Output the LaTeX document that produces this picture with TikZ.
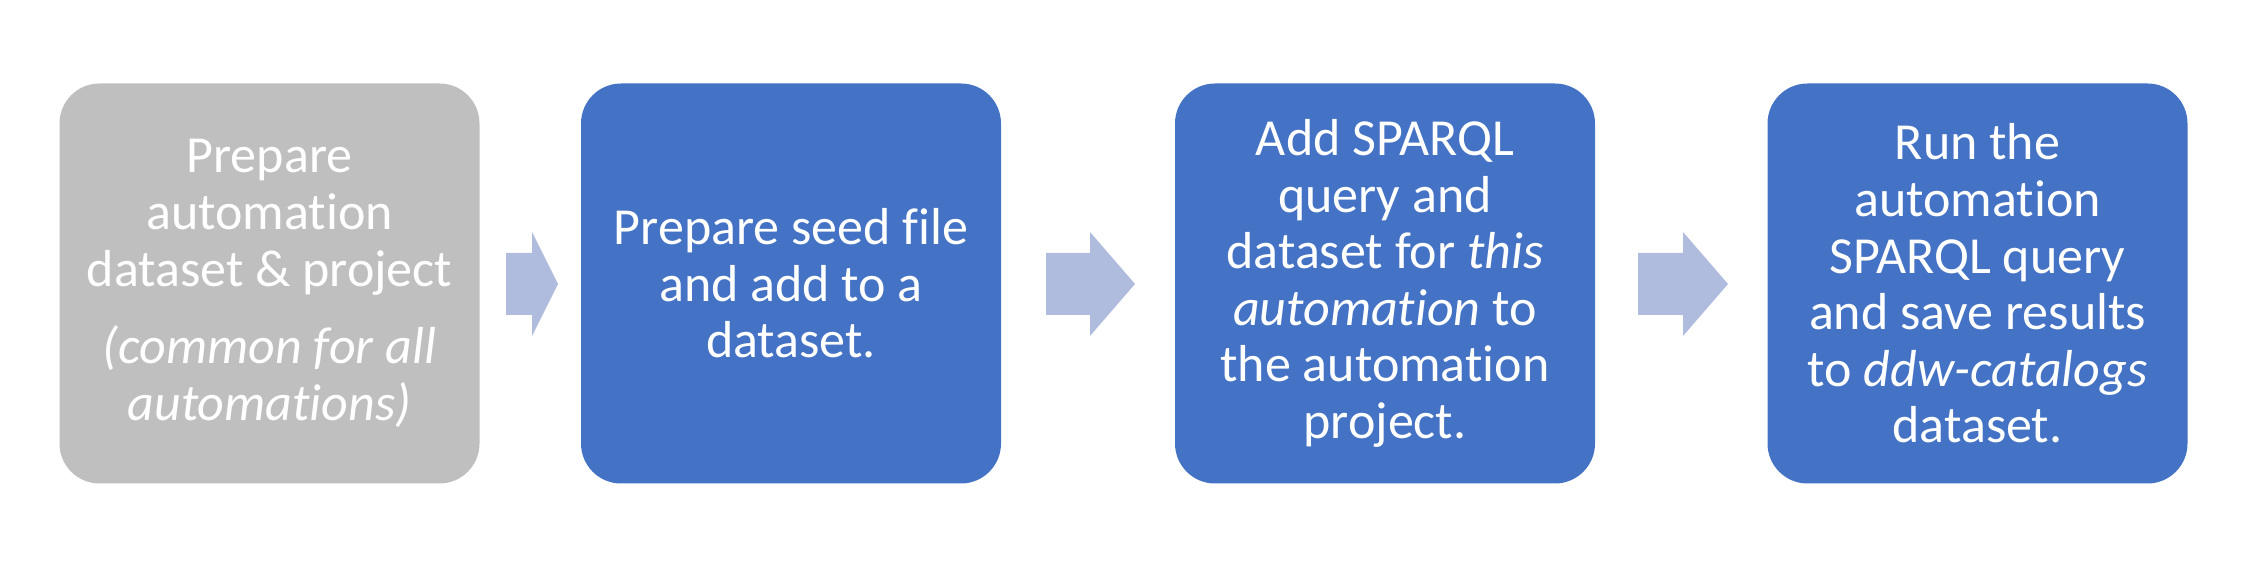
\documentclass[tikz,border=0pt]{standalone}
\usepackage{fontspec}
\setmainfont{Carlito}[Ligatures={NoCommon}, RawFeature={-liga}]
\usepackage{tikz}
\usetikzlibrary{positioning}

\definecolor{boxgray}{HTML}{BFBFBF}
\definecolor{boxblue}{HTML}{4472C4}
\definecolor{arrowblue}{RGB}{175,188,222}

\begin{document}
\begin{tikzpicture}[x=0.5pt, y=-0.5pt,
  stepbox/.style={rectangle, rounded corners=20pt, minimum width=210pt, minimum height=200pt,
    text=white, align=center, inner sep=0pt, font=\fontsize{26}{28.3}\selectfont},
  arrowfill/.style={fill=arrowblue}]
  \useasboundingbox (0,0) rectangle (2256,576);

  \node[stepbox, fill=boxgray] (1) at (269.5,283.5) {Prepare\\automation\\dataset \& project\\[10.5pt]\textit{(common for all}\\\textit{automations)}};
  \node[stepbox, fill=boxblue] (2) at (791,283.5) {Prepare seed file\\and add to a\\dataset.};
  \node[stepbox, fill=boxblue] (3) at (1385,283.5) {Add SPARQL\\query and\\dataset for \textit{this}\\\textit{automation} to\\the automation\\project.};
  \node[stepbox, fill=boxblue] (4) at (1977.5,283.5) {Run the\\automation\\SPARQL query\\and save results\\to \textit{ddw-catalogs}\\dataset.};

  \fill[arrowfill] (506,253) -- (532,253) -- (532,232) -- (558,284) -- (532,336) -- (532,315) -- (506,315) -- cycle;
  \fill[arrowfill] (1046,253) -- (1090,253) -- (1090,232) -- (1135,284) -- (1090,336) -- (1090,315) -- (1046,315) -- cycle;
  \fill[arrowfill] (1638,253) -- (1683,253) -- (1683,232) -- (1728,284) -- (1683,336) -- (1683,315) -- (1638,315) -- cycle;
\end{tikzpicture}
\end{document}
